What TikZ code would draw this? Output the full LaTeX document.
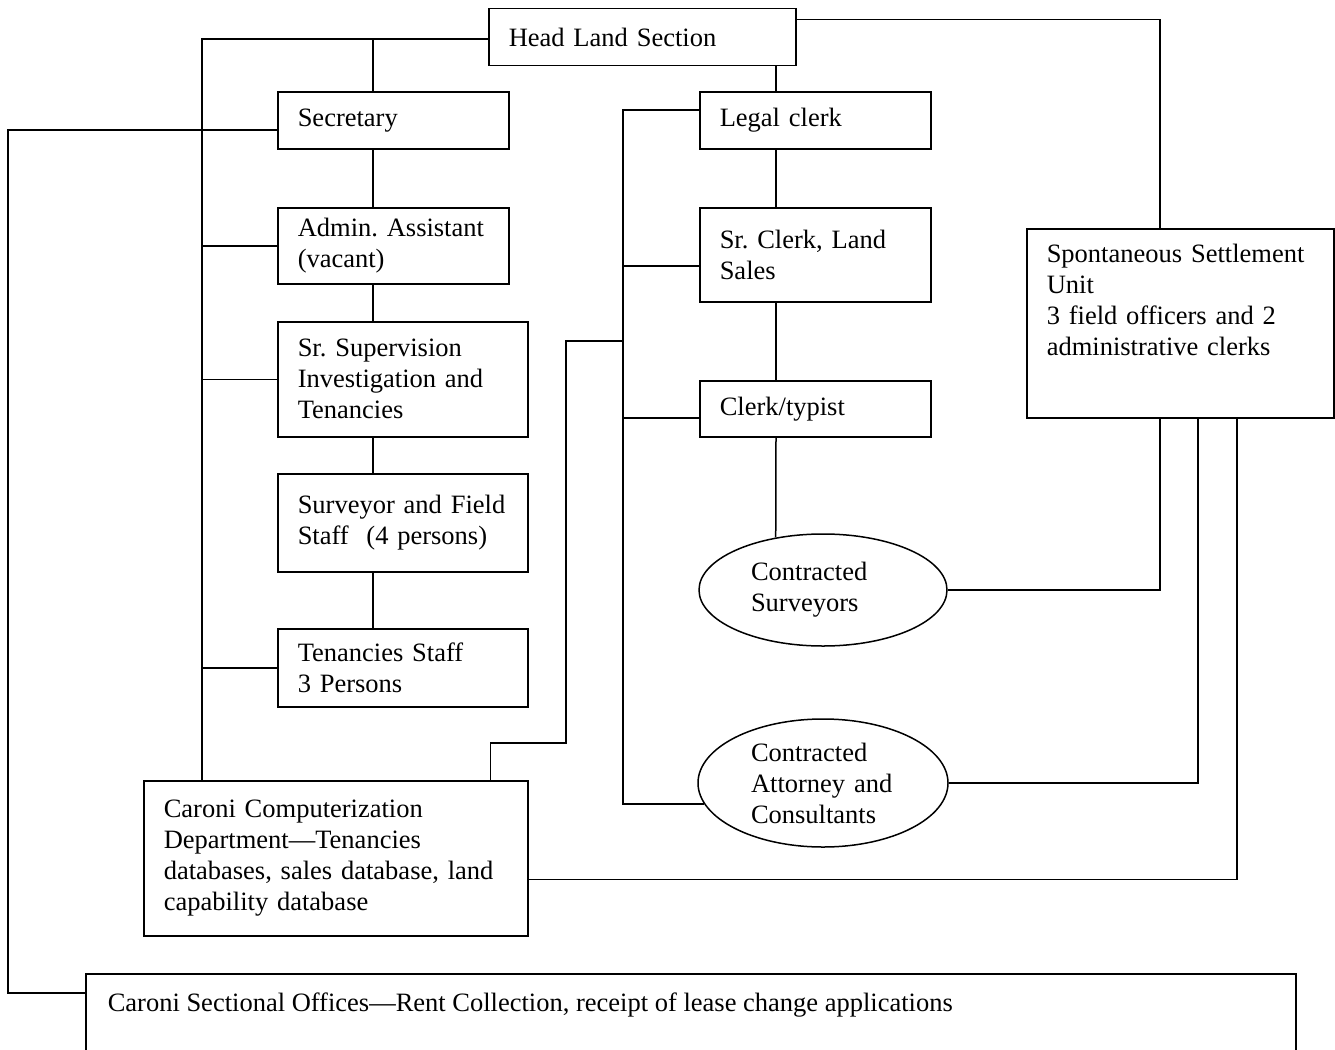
\documentclass[tikz,border=0pt]{standalone}
\usepackage{fontspec}
\setmainfont{Liberation Serif}
\usetikzlibrary{shapes.geometric}
\frenchspacing

\begin{document}
\begin{tikzpicture}[x=1pt,y=-1pt,line width=1.5pt,
  every node/.style={font=\fontsize{26.5}{31}\selectfont},
  box/.style={draw,rectangle,anchor=north west,align=left,inner xsep=20pt,inner ysep=0pt},
  oval/.style={draw,ellipse,align=left,inner sep=0pt,text width=144pt},
  lbl/.style={anchor=north west,align=left,inner sep=0pt}]
  \useasboundingbox (0,0) rectangle (1335,1049);
  \clip (0,0) rectangle (1335,1049);
  % boxes, left column
  \node[box,text width=267pt,minimum height=57pt] (head) at (488,8) {Head Land Section};
  \node[box,text width=191pt,minimum height=57pt] (sec) at (277,91) {Secretary};
  \node[box,text width=191pt,minimum height=76pt] (admin) at (277,207) {Admin. Assistant\\(vacant)};
  \node[box,text width=210pt,minimum height=115pt] (super) at (277,321) {Sr. Supervision\\Investigation and\\Tenancies};
  \node[box,text width=210pt,minimum height=98pt] (survey) at (277,473) {Surveyor and Field\\Staff\ \ (4 persons)};
  \node[box,text width=210pt,minimum height=78pt] (tenan) at (277,628) {Tenancies Staff\\3 Persons};
  \node[box,text width=344pt,minimum height=155pt] (comp) at (143,780) {Caroni Computerization\\Department—Tenancies\\databases, sales database, land\\capability database};
  % boxes, right column
  \node[box,text width=191pt,minimum height=57pt] (legal) at (699,91) {Legal clerk};
  \node[box,text width=191pt,minimum height=94pt] (sclerk) at (699,207) {Sr. Clerk, Land\\Sales};
  \node[box,text width=191pt,minimum height=56pt] (typist) at (699,380) {Clerk/typist};
  \node[oval,minimum width=248pt,minimum height=112pt] (csurv) at (823,590) {Contracted\\Surveyors};
  \node[oval,minimum width=250pt,minimum height=128pt] (catty) at (823,783) {Contracted\\Attorney and\\Consultants};
  \node[box,minimum width=307pt,minimum height=189pt] (ssu) at (1026,228) {};
  \node[lbl,text width=270pt] (ssutext) at (1046,243) {Spontaneous Settlement\\Unit\\3 field officers and 2\\administrative clerks};
  \node[box,minimum width=1210pt,minimum height=130pt] (sect) at (85,973) {};
  \node[lbl] (secttext) at (107,992) {Caroni Sectional Offices—Rent Collection, receipt of lease change applications};
  % trunks
  \coordinate (lx) at (202,39);
  \coordinate (mx) at (373,39);
  \coordinate (rx) at (623,109);
  \coordinate (cx) at (776,0);
  \coordinate (ox) at (8,993);
  \coordinate (s1) at (1160,0);
  \coordinate (s2) at (1198,0);
  \coordinate (s3) at (1237,0);
  \draw (head.west |- lx) -- (lx) -- (lx |- comp.north);
  \draw (mx) -- (mx |- sec.north);
  \foreach \n in {admin,super,tenan}
    \draw (lx |- \n.west) -- (\n.west);
  \foreach \a/\b in {sec/admin,admin/super,super/survey,survey/tenan}
    \draw (mx |- \a.south) -- (mx |- \b.north);
  \draw ([yshift=-9.5pt]sec.west) -| (ox) -- (ox -| sect.west);
  \draw ([xshift=-38pt]comp.north east) -- ++(0,-37) -| (566,341) -- (rx |- 0,341);
  \draw ([yshift=10.5pt]legal.west) -| (rx |- catty.190) -- (catty.190);
  \draw ([yshift=-11pt]sclerk.west) -- +(-76,0);
  \draw ([yshift=-9pt]typist.west) -- +(-76,0);
  \draw (cx |- head.south) -- (cx |- legal.north);
  \draw (cx |- legal.south) -- (cx |- sclerk.north);
  \draw (cx |- sclerk.south) -- (cx |- typist.north);
  \draw (cx |- typist.south) -- (csurv.132);
  \draw ([yshift=17.5pt]head.east) -| (s1 |- ssu.north);
  \draw (s1 |- ssu.south) |- (csurv.east);
  \draw (s2 |- ssu.south) |- (catty.east);
  \draw (s3 |- ssu.south) |- ([yshift=-21pt]comp.east);
\end{tikzpicture}
\end{document}
